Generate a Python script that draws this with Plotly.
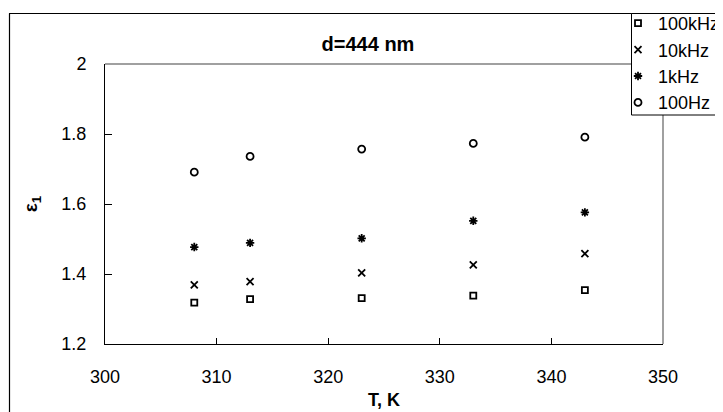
import plotly.graph_objects as go

temps = [308, 313, 323, 333, 343]
eps_100kHz = [1.318, 1.328, 1.331, 1.338, 1.354]
eps_10kHz = [1.369, 1.378, 1.403, 1.426, 1.458]
eps_1kHz = [1.477, 1.489, 1.502, 1.552, 1.576]
eps_100Hz = [1.691, 1.736, 1.757, 1.773, 1.791]

series_names = ["100kHz", "10kHz", "1kHz", "100Hz"]
series_vals = [eps_100kHz, eps_10kHz, eps_1kHz, eps_100Hz]
symbols = ["square-open", "x-thin-open", "asterisk-open", "circle-open"]
sizes = [6, 7, 7, 7]

x_ticks = [300, 310, 320, 330, 340, 350]
y_ticks = [1.2, 1.4, 1.6, 1.8, 2.0]
y_tick_text = ["1.2", "1.4", "1.6", "1.8", "2"]

OFF = 8  # page body margin
W, H = 723 - OFF, 412 - OFF
# plot area in screen pixels
SL, SR, ST, SB = 105, 663, 64, 344
L, R, T, B = SL - OFF, SR - OFF, ST - OFF, SB - OFF


def px_x(p):
    return (p - SL) / (SR - SL)


def px_y(p):
    return (SB - p) / (SB - ST)


fig = go.Figure()
for i, (name, vals) in enumerate(zip(series_names, series_vals)):
    fig.add_trace(go.Scatter(
        x=temps, y=vals, mode="markers", name=name, legendgroup=name,
        marker=dict(symbol=symbols[i], size=sizes[i], color="black",
                    line=dict(color="black", width=1.8)),
    ))

font = "Liberation Sans, Arial, sans-serif"

fig.update_layout(
    width=W, height=H,
    margin=dict(l=L, r=W - R, t=T, b=H - B, autoexpand=False),
    paper_bgcolor="white", plot_bgcolor="white",
    font=dict(family=font, size=18, color="black"),
    showlegend=True,
    legend=dict(
        x=px_x(618), y=px_y(5), xanchor="left", yanchor="top",
        bgcolor="rgba(0,0,0,0)", borderwidth=0,
        font=dict(size=18), tracegroupgap=0, itemwidth=30,
    ),
    title=dict(text="<b>d=444 nm</b>", x=(368 - OFF) / W, xanchor="center",
               y=1 - (44 - OFF) / H, yanchor="middle", font=dict(size=20)),
    xaxis=dict(range=[300, 350], tickvals=x_ticks, ticks="inside", ticklen=6,
               tickcolor="black", showline=True, linecolor="black", linewidth=1,
               showgrid=False, zeroline=False, ticklabelstandoff=16,
               automargin=False,
               title=dict(text="<b>T, K</b>", standoff=7, font=dict(size=18))),
    yaxis=dict(range=[1.2, 2.0], tickvals=y_ticks, ticktext=y_tick_text,
               ticks="inside", ticklen=7, tickcolor="black", showline=True,
               linecolor="black", linewidth=1, showgrid=False, zeroline=False,
               ticklabelstandoff=14, automargin=False,
               title=dict(text="<b>ε<sub>1</sub></b>", standoff=18,
                          font=dict(size=19))),
    shapes=[
        # plot area top and right border (gray)
        dict(type="line", xref="paper", yref="paper", x0=0, x1=1, y0=1, y1=1,
             line=dict(color="#808080", width=1.5)),
        dict(type="line", xref="paper", yref="paper", x0=1, x1=1, y0=0, y1=1,
             line=dict(color="#808080", width=1.5)),
        # outer chart frame
        dict(type="line", xref="paper", yref="paper", x0=px_x(9), x1=px_x(740),
             y0=px_y(13.5), y1=px_y(13.5), line=dict(color="black", width=1.2)),
        dict(type="line", xref="paper", yref="paper", x0=px_x(9.5), x1=px_x(9.5),
             y0=px_y(13.5), y1=px_y(430), line=dict(color="black", width=1.2)),
        # legend box
        dict(type="rect", xref="paper", yref="paper", x0=px_x(631.5), x1=px_x(740),
             y0=px_y(115), y1=px_y(13.5), fillcolor="white",
             line=dict(color="black", width=1), layer="above"),
    ],
)

fig.write_html("out.html")
